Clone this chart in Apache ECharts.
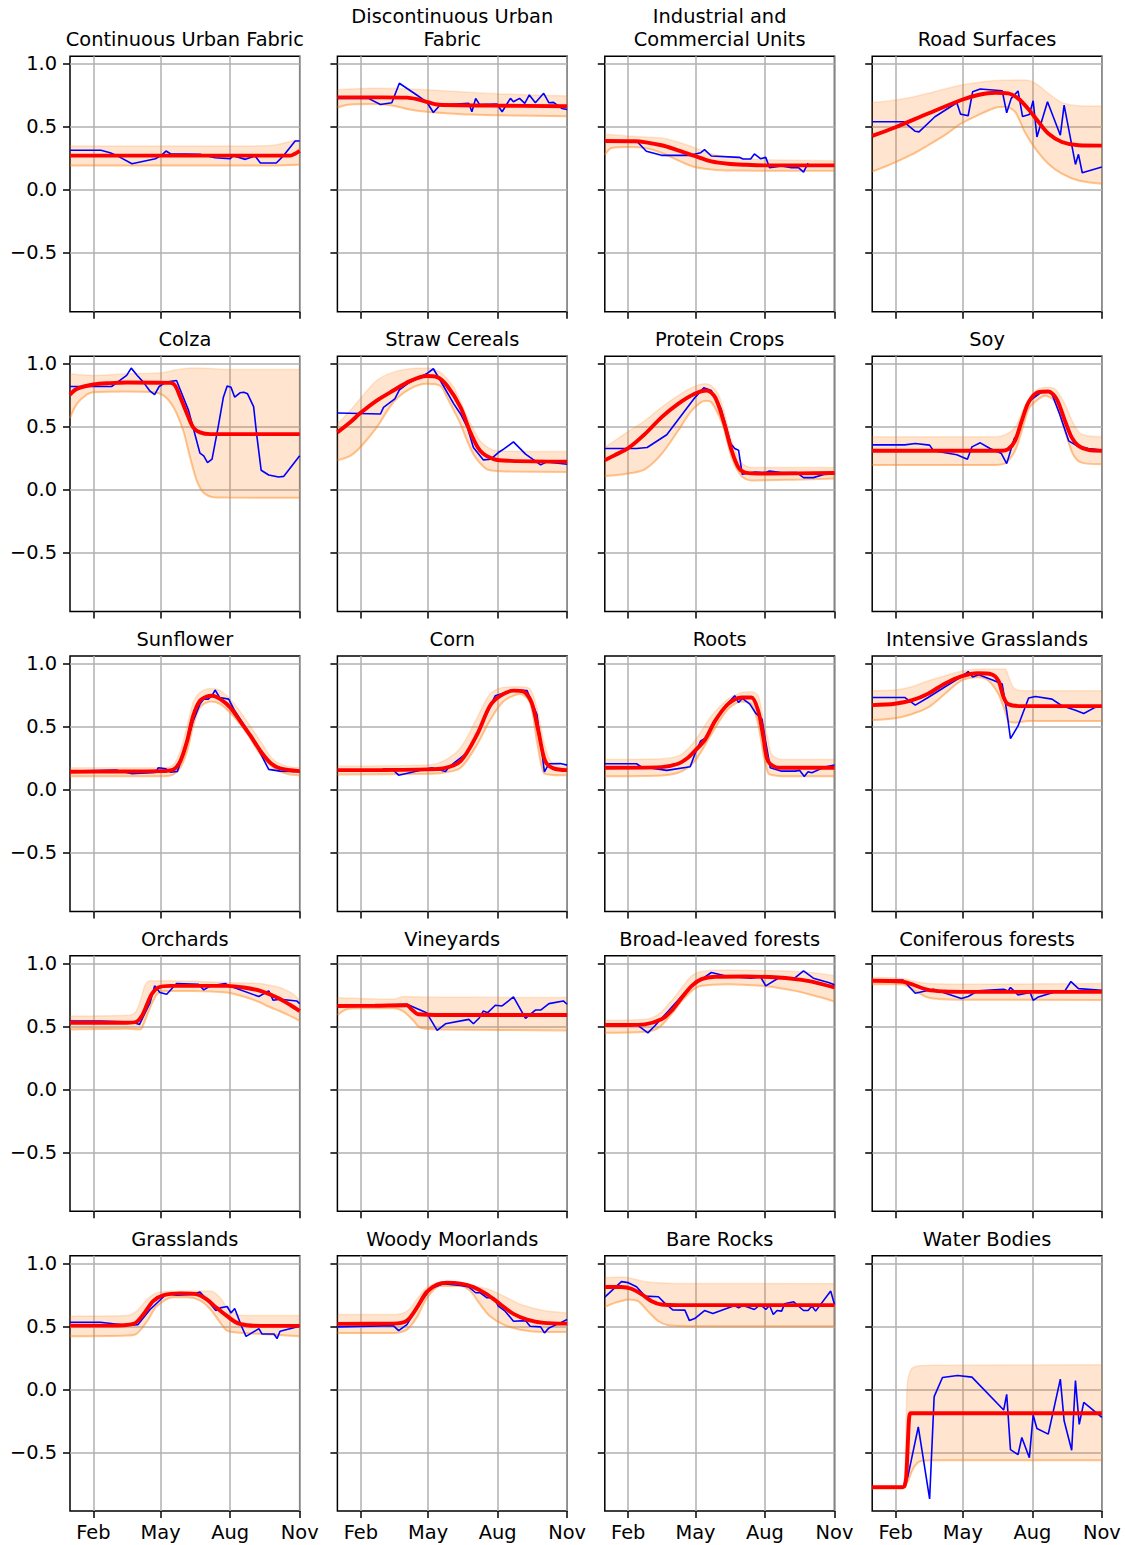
<!DOCTYPE html>
<html>
<head>
<meta charset="utf-8">
<script src="https://cdn.jsdelivr.net/npm/echarts@6/dist/echarts.min.js"></script>
<style>
  html, body { margin: 0; padding: 0; background: #fff; }
  #chart { width: 1125px; height: 1545px; }
</style>
</head>
<body>
<div id="chart"></div>
<script>
// x = day of year (0 = 1 Jan ... 304 = 1 Nov), y = index value
const lastDay = 304;
const monthTicks = [31, 120, 212, 304];
const monthNames = ['Feb', 'May', 'Aug', 'Nov'];
const yTicks = [-0.5, 0, 0.5, 1.0];

// observations [day, value], fitted curve [day, value], band [day, low, high]
const cufObs = [[0,.314],[41,.314],[53,.295],[64,.266],[82,.207],[113,.247],[121,.274],[127,.308],[133,.287],[172,.282],[192,.255],[212,.247],[216,.271],[232,.242],[245,.269],[252,.213],[273,.213],[283,.274],[298,.388],[304,.388]];
const cufFit = [[0,.272],[150,.272],[292,.272],[297,.285],[304,.31]];
const cufBand = [[0,.194,.348],[100,.194,.348],[200,.194,.348],[260,.194,.35],[275,.194,.36],[285,.196,.375],[295,.198,.39],[304,.2,.396]];

const dufObs = [[0,.726],[41,.726],[57,.678],[72,.691],[82,.846],[105,.753],[118,.699],[127,.614],[136,.673],[174,.686],[178,.62],[183,.726],[188,.678],[211,.681],[218,.62],[229,.726],[233,.699],[241,.726],[248,.686],[254,.753],[262,.691],[273,.766],[280,.691],[286,.694],[297,.646],[304,.638]];
const dufFit = [[0,.734],[60,.734],[92,.732],[105,.72],[118,.699],[129,.68],[140,.673],[200,.669],[304,.664]];
const dufBand = [[0,.654,.793],[17,.678,.80],[52,.681,.806],[74,.668,.804],[96,.638,.801],[118,.62,.795],[140,.61,.787],[163,.601,.779],[185,.597,.771],[207,.593,.764],[229,.591,.758],[304,.585,.745]];

const icuObs = [[0,.388],[42,.388],[55,.306],[75,.274],[113,.274],[127,.295],[132,.319],[141,.269],[178,.258],[183,.245],[193,.245],[198,.285],[206,.247],[213,.258],[218,.176],[234,.189],[247,.176],[256,.178],[263,.141],[269,.213]];
const icuFit = [[0,.388],[40,.386],[75,.354],[97,.314],[119,.269],[141,.226],[163,.207],[186,.199],[213,.194],[304,.194]];
const icuBand = [[0,.279,.441],[9,.332,.438],[31,.34,.428],[53,.332,.42],[75,.295,.412],[97,.234,.38],[119,.181,.335],[141,.162,.287],[163,.154,.261],[186,.153,.247],[213,.152,.239],[304,.152,.231]];

const roadObs = [[0,.54],[42,.54],[57,.465],[62,.46],[83,.58],[112,.691],[117,.601],[127,.588],[133,.779],[143,.80],[172,.787],[178,.612],[184,.726],[193,.785],[199,.582],[208,.598],[213,.707],[218,.42],[232,.699],[249,.434],[254,.673],[269,.202],[273,.282],[278,.136],[304,.181]];
const roadFit = [[0,.428],[30,.495],[74,.606],[118,.713],[140,.753],[163,.771],[180,.766],[193,.726],[206,.646],[220,.54],[233,.447],[251,.38],[273,.354],[304,.351]];
const roadBand = [[0,.146,.694],[21,.194,.705],[52,.279,.735],[74,.354,.766],[96,.434,.80],[118,.527,.832],[140,.593,.852],[163,.652,.867],[176,.66,.87],[189,.62,.872],[202,.46,.872],[216,.327,.846],[233,.207,.766],[251,.128,.694],[273,.074,.668],[304,.048,.665]];

const colzaObs = [[0,.819],[55,.819],[66,.867],[75,.907],[81,.965],[89,.907],[97,.854],[106,.782],[112,.755],[118,.819],[127,.854],[141,.867],[157,.628],[172,.29],[177,.269],[182,.215],[188,.242],[196,.495],[203,.734],[208,.824],[213,.814],[218,.734],[225,.769],[230,.774],[235,.761],[243,.66],[247,.441],[253,.154],[263,.117],[276,.101],[283,.106],[304,.269]];
const colzaFit = [[0,.755],[9,.80],[31,.835],[53,.846],[75,.851],[133,.848],[139,.827],[146,.734],[155,.601],[163,.495],[172,.455],[186,.441],[304,.441]];
const colzaBand = [[0,.569,.92],[9,.681,.915],[22,.755,.91],[31,.774,.907],[75,.779,.92],[110,.774,.925],[124,.747,.93],[137,.654,.948],[150,.468,.96],[159,.255,.965],[168,.069,.965],[177,-.024,.963],[190,-.059,.96],[208,-.062,.955],[304,-.064,.955]];

const strawObs = [[0,.609],[57,.601],[61,.654],[76,.721],[82,.793],[94,.846],[107,.886],[118,.92],[127,.96],[140,.827],[154,.681],[163,.601],[172,.495],[180,.335],[193,.237],[203,.242],[213,.295],[220,.322],[233,.38],[249,.282],[269,.197],[277,.221],[304,.202]];
const strawFit = [[0,.455],[17,.535],[30,.606],[52,.707],[74,.787],[96,.862],[118,.902],[132,.894],[145,.827],[163,.654],[176,.455],[189,.309],[207,.242],[229,.229],[304,.223]];
const strawBand = [[0,.234,.521],[17,.269,.628],[30,.335,.721],[52,.495,.867],[74,.694,.933],[96,.80,.96],[118,.84,.965],[136,.825,.933],[145,.734,.88],[154,.63,.814],[163,.521,.70],[171,.40,.588],[180,.282,.48],[189,.21,.388],[198,.162,.34],[207,.15,.314],[229,.144,.306],[304,.141,.303]];

const proteinObs = [[0,.327],[42,.327],[56,.335],[82,.436],[119,.729],[131,.809],[141,.787],[154,.641],[167,.362],[172,.327],[177,.314],[182,.122],[199,.141],[213,.136],[218,.149],[234,.136],[254,.136],[263,.096],[276,.096],[291,.122],[304,.128]];
const proteinFit = [[0,.234],[13,.274],[31,.33],[53,.441],[75,.574],[97,.681],[119,.761],[135,.787],[146,.734],[157,.548],[168,.309],[177,.176],[186,.136],[213,.128],[304,.133]];
const proteinBand = [[0,.109,.335],[13,.115,.388],[31,.128,.463],[53,.162,.548],[75,.282,.654],[97,.468,.747],[115,.628,.81],[133,.707,.84],[141,.694,.825],[150,.60,.76],[157,.50,.641],[168,.255,.388],[181,.109,.215],[194,.074,.176],[250,.08,.176],[304,.088,.176]];

const soyObs = [[0,.356],[43,.356],[57,.367],[76,.354],[81,.309],[112,.277],[126,.242],[132,.34],[143,.372],[156,.327],[171,.287],[178,.207],[188,.407],[193,.441],[207,.70],[226,.782],[237,.774],[248,.601],[260,.388],[271,.348],[286,.327],[304,.314]];
const soyFit = [[0,.309],[100,.309],[171,.309],[180,.322],[189,.388],[198,.548],[207,.694],[220,.774],[233,.779],[244,.721],[255,.548],[264,.415],[273,.348],[286,.316],[304,.309]];
const soyBand = [[0,.197,.42],[100,.197,.42],[163,.197,.42],[176,.21,.436],[189,.309,.495],[198,.468,.61],[207,.641,.72],[216,.70,.787],[229,.745,.814],[242,.70,.80],[255,.468,.681],[266,.279,.53],[277,.215,.44],[304,.202,.42]];

const sunObs = [[0,.146],[62,.154],[82,.125],[113,.136],[117,.173],[127,.165],[133,.138],[142,.144],[152,.306],[163,.545],[172,.678],[177,.718],[183,.718],[188,.745],[192,.79],[198,.731],[210,.718],[218,.625],[234,.479],[247,.346],[263,.16],[278,.146],[304,.141]];
const sunFit = [[0,.141],[60,.143],[119,.146],[137,.16],[146,.226],[155,.386],[163,.585],[172,.705],[181,.739],[188,.745],[199,.718],[212,.652],[225,.545],[239,.426],[252,.306],[265,.213],[278,.168],[304,.146]];
const sunBand = [[0,.106,.173],[124,.106,.173],[137,.12,.199],[146,.173,.306],[155,.306,.505],[163,.505,.691],[172,.652,.771],[186,.699,.803],[199,.678,.785],[216,.585,.691],[234,.452,.545],[252,.279,.386],[269,.173,.239],[287,.125,.186],[304,.114,.173]];

const cornObs = [[0,.157],[74,.154],[81,.114],[125,.173],[143,.144],[149,.186],[169,.279],[180,.372],[193,.545],[209,.745],[216,.758],[233,.79],[251,.785],[264,.598],[274,.141],[280,.205],[295,.207],[304,.194]];
const cornFit = [[0,.154],[60,.155],[118,.16],[140,.168],[163,.226],[185,.439],[202,.665],[216,.745],[233,.785],[246,.779],[257,.691],[266,.465],[275,.226],[286,.168],[304,.154]];
const cornBand = [[0,.12,.186],[118,.125,.194],[140,.133,.226],[163,.173,.332],[185,.359,.572],[202,.55,.758],[220,.70,.811],[242,.758,.816],[255,.691,.798],[264,.386,.652],[273,.133,.386],[282,.118,.226],[295,.114,.186],[304,.114,.181]];

const rootsObs = [[0,.205],[42,.205],[48,.181],[82,.152],[113,.181],[119,.279],[127,.386],[133,.407],[141,.492],[154,.625],[172,.745],[177,.691],[182,.723],[192,.678],[200,.604],[208,.559],[212,.412],[219,.173],[234,.146],[252,.146],[258,.152],[264,.104],[269,.141],[274,.133],[291,.178],[304,.194]];
const rootsFit = [[0,.173],[75,.178],[97,.205],[110,.253],[119,.306],[133,.399],[146,.545],[163,.678],[181,.731],[194,.731],[203,.625],[210,.412],[216,.226],[230,.173],[304,.173]];
const rootsBand = [[0,.106,.239],[75,.112,.245],[100,.14,.275],[119,.226,.386],[141,.439,.585],[163,.638,.718],[181,.699,.771],[194,.678,.777],[203,.521,.745],[210,.279,.55],[216,.133,.40],[221,.115,.279],[234,.106,.239],[304,.106,.239]];

const intGrassObs = [[0,.731],[43,.731],[57,.67],[74,.731],[96,.814],[118,.894],[127,.936],[133,.894],[141,.912],[160,.867],[172,.838],[178,.625],[183,.404],[193,.505],[207,.726],[216,.739],[238,.718],[251,.665],[269,.63],[280,.604],[295,.652],[304,.665]];
const intGrassFit = [[0,.67],[30,.681],[52,.707],[74,.761],[96,.84],[118,.899],[140,.923],[158,.915],[167,.864],[174,.731],[180,.678],[198,.662],[304,.662]];
const intGrassBand = [[0,.551,.785],[30,.566,.79],[52,.598,.816],[74,.652,.864],[96,.758,.904],[118,.864,.939],[140,.891,.957],[154,.864,.957],[167,.758,.957],[176,.62,.957],[180,.545,.904],[189,.532,.798],[207,.545,.785],[304,.545,.785]];

const orchObs = [[0,.543],[40,.543],[82,.535],[92,.516],[106,.689],[112,.822],[119,.769],[128,.755],[141,.84],[170,.835],[177,.79],[186,.822],[206,.84],[213,.816],[250,.737],[263,.782],[269,.707],[278,.715],[300,.702],[304,.681]];
const orchFit = [[0,.529],[75,.529],[88,.537],[95,.582],[102,.676],[108,.755],[117,.809],[133,.822],[208,.822],[230,.809],[252,.782],[274,.729],[292,.668],[304,.622]];
const orchBand = [[0,.476,.582],[75,.481,.588],[86,.478,.609],[93,.476,.702],[99,.543,.822],[106,.649,.862],[115,.755,.862],[124,.782,.862],[163,.782,.858],[208,.769,.848],[234,.729,.844],[252,.69,.84],[261,.662,.83],[278,.62,.809],[287,.596,.785],[296,.57,.755],[304,.543,.702]];

const vineObs = [[0,.662],[92,.676],[118,.609],[132,.468],[143,.521],[174,.556],[180,.521],[188,.569],[193,.622],[199,.609],[209,.668],[218,.662],[233,.734],[249,.564],[262,.63],[269,.63],[280,.681],[299,.702],[304,.676]];
const vineFit = [[0,.662],[50,.664],[92,.668],[98,.636],[107,.596],[140,.59],[304,.59]];
const vineBand = [[0,.59,.729],[12,.636,.725],[30,.644,.722],[74,.644,.715],[87,.622,.737],[101,.543,.735],[110,.489,.734],[140,.476,.732],[304,.468,.729]];

const broadObs = [[0,.516],[42,.516],[57,.449],[66,.503],[82,.609],[104,.755],[119,.835],[141,.928],[163,.896],[194,.883],[206,.894],[213,.822],[229,.88],[252,.888],[263,.941],[276,.883],[296,.848],[304,.83]];
const broadFit = [[0,.511],[31,.511],[53,.516],[75,.556],[88,.622],[102,.729],[115,.822],[128,.875],[146,.894],[186,.896],[230,.888],[252,.875],[274,.856],[304,.809]];
const broadBand = [[0,.449,.548],[53,.457,.556],[71,.489,.596],[88,.596,.702],[102,.702,.809],[115,.782,.902],[128,.822,.936],[163,.835,.947],[208,.822,.943],[230,.805,.941],[252,.782,.936],[274,.75,.928],[287,.729,.918],[304,.697,.902]];

const conifObs = [[0,.862],[41,.867],[57,.763],[81,.795],[101,.755],[118,.721],[127,.737],[140,.782],[174,.795],[180,.782],[183,.809],[193,.75],[209,.769],[213,.707],[220,.734],[246,.782],[255,.782],[263,.856],[273,.80],[304,.787]];
const conifFit = [[0,.862],[39,.856],[52,.835],[74,.79],[96,.777],[118,.774],[304,.774]];
const conifBand = [[0,.835,.888],[39,.835,.883],[57,.782,.856],[74,.729,.84],[96,.715,.837],[118,.712,.835],[304,.71,.84]];

const grassObs = [[0,.532],[40,.532],[75,.508],[90,.513],[106,.633],[128,.758],[141,.747],[163,.753],[172,.771],[181,.713],[193,.625],[199,.646],[208,.657],[213,.606],[218,.641],[227,.50],[233,.42],[250,.481],[254,.439],[270,.439],[274,.402],[278,.46],[304,.50]];
const grassFit = [[0,.505],[53,.505],[84,.519],[97,.593],[110,.699],[124,.747],[146,.761],[168,.753],[181,.713],[194,.646],[208,.58],[221,.527],[234,.508],[252,.503],[304,.503]];
const grassBand = [[0,.42,.58],[75,.426,.585],[88,.44,.62],[102,.54,.713],[115,.66,.766],[137,.731,.778],[155,.731,.779],[172,.705,.779],[186,.633,.779],[199,.527,.726],[208,.465,.646],[221,.45,.593],[234,.445,.585],[304,.42,.585]];

const moorObs = [[0,.495],[74,.505],[81,.465],[92,.513],[107,.66],[123,.798],[140,.838],[163,.824],[174,.811],[183,.766],[189,.766],[198,.726],[207,.726],[213,.66],[222,.62],[233,.54],[249,.545],[255,.50],[269,.495],[274,.447],[280,.487],[295,.527],[304,.553]];
const moorFit = [[0,.519],[74,.521],[92,.545],[105,.646],[118,.771],[132,.832],[145,.846],[163,.838],[180,.811],[198,.753],[216,.673],[233,.598],[251,.553],[273,.527],[304,.521]];
const moorBand = [[0,.447,.593],[74,.447,.593],[92,.473,.62],[105,.57,.713],[118,.72,.806],[136,.82,.846],[163,.819,.838],[176,.779,.828],[189,.673,.81],[202,.58,.79],[220,.513,.74],[242,.473,.675],[273,.455,.625],[304,.455,.606]];

const rocksObs = [[0,.731],[11,.793],[22,.854],[31,.846],[42,.814],[53,.739],[71,.734],[79,.686],[90,.63],[106,.628],[112,.545],[119,.561],[132,.625],[143,.601],[172,.665],[177,.646],[183,.665],[198,.633],[206,.673],[213,.633],[218,.665],[223,.593],[228,.625],[234,.62],[238,.678],[250,.694],[263,.625],[269,.625],[274,.66],[279,.62],[299,.779],[304,.673]];
const rocksFit = [[0,.811],[22,.811],[35,.798],[49,.753],[62,.699],[75,.673],[97,.668],[304,.668]];
const rocksBand = [[0,.654,.886],[13,.686,.889],[22,.70,.891],[31,.713,.885],[44,.699,.868],[57,.62,.851],[71,.54,.845],[84,.508,.842],[97,.503,.84],[119,.50,.839],[304,.50,.838]];

const waterObs = [[0,-.777],[42,-.777],[47,-.697],[61,-.298],[76,-.87],[82,-.059],[93,.093],[113,.109],[132,.096],[174,-.165],[178,-.04],[183,-.479],[193,-.519],[198,-.383],[208,-.543],[213,-.205],[218,-.311],[233,-.356],[249,.08],[254,-.25],[264,-.484],[269,.069],[274,-.279],[280,-.104],[304,-.223]];
const waterFit = [[0,-.777],[41,-.777],[43,-.765],[45,-.70],[47,-.45],[49,-.22],[51,-.19],[60,-.19],[304,-.19]];
const waterBand = [[0,-.79,-.77],[40,-.79,-.77],[42,-.78,-.76],[44,-.76,-.48],[46,-.74,0],[48,-.72,.10],[52,-.657,.162],[57,-.604,.18],[63,-.572,.186],[80,-.564,.19],[304,-.564,.194]];

const panels = [
  { title: 'Continuous Urban Fabric', obs: cufObs, fit: cufFit, band: cufBand },
  { title: 'Discontinuous Urban\nFabric', obs: dufObs, fit: dufFit, band: dufBand },
  { title: 'Industrial and\nCommercial Units', obs: icuObs, fit: icuFit, band: icuBand },
  { title: 'Road Surfaces', obs: roadObs, fit: roadFit, band: roadBand },
  { title: 'Colza', obs: colzaObs, fit: colzaFit, band: colzaBand },
  { title: 'Straw Cereals', obs: strawObs, fit: strawFit, band: strawBand },
  { title: 'Protein Crops', obs: proteinObs, fit: proteinFit, band: proteinBand },
  { title: 'Soy', obs: soyObs, fit: soyFit, band: soyBand },
  { title: 'Sunflower', obs: sunObs, fit: sunFit, band: sunBand },
  { title: 'Corn', obs: cornObs, fit: cornFit, band: cornBand },
  { title: 'Roots', obs: rootsObs, fit: rootsFit, band: rootsBand },
  { title: 'Intensive Grasslands', obs: intGrassObs, fit: intGrassFit, band: intGrassBand },
  { title: 'Orchards', obs: orchObs, fit: orchFit, band: orchBand },
  { title: 'Vineyards', obs: vineObs, fit: vineFit, band: vineBand },
  { title: 'Broad-leaved forests', obs: broadObs, fit: broadFit, band: broadBand },
  { title: 'Coniferous forests', obs: conifObs, fit: conifFit, band: conifBand },
  { title: 'Grasslands', obs: grassObs, fit: grassFit, band: grassBand },
  { title: 'Woody Moorlands', obs: moorObs, fit: moorFit, band: moorBand },
  { title: 'Bare Rocks', obs: rocksObs, fit: rocksFit, band: rocksBand },
  { title: 'Water Bodies', obs: waterObs, fit: waterFit, band: waterBand }
];

// one category per day, so the band series can stack by category
const dayCategories = Array.from({ length: lastDay + 1 }, (_, d) => String(d));
const isMonthTick = idx => monthTicks.indexOf(idx) >= 0;

const FONT = 'DejaVu Sans';
const fontSize = 19.4;
const plotW = 229.7, plotH = 255.4;
const SMOOTH = 0.3;

const grids = [], xAxes = [], yAxes = [], series = [], graphics = [];

panels.forEach((p, i) => {
  const row = Math.floor(i / 4), col = i % 4;
  const left = 70 + col * 267.4;
  const top = 56.3 + row * 299.85;

  grids.push({ left, top, width: plotW, height: plotH, show: true, borderColor: '#000', borderWidth: 1.5, backgroundColor: 'transparent' });

  xAxes.push({
    type: 'category', gridIndex: i, data: dayCategories, boundaryGap: false,
    axisLine: { show: false, onZero: false },
    axisTick: { show: true, length: 7, interval: isMonthTick, lineStyle: { color: '#000', width: 1.5 } },
    axisLabel: {
      show: row === 4, interval: isMonthTick, margin: 12,
      color: '#000', fontSize, fontFamily: FONT,
      formatter: v => monthNames[monthTicks.indexOf(Number(v))] || ''
    },
    splitLine: { show: true, interval: isMonthTick, lineStyle: { color: '#b0b0b0', width: 1.5 } }
  });

  yAxes.push({
    type: 'value', gridIndex: i, min: -0.967, max: 1.06,
    axisLine: { show: false, onZero: false },
    axisTick: { show: true, length: 7, lineStyle: { color: '#000', width: 1.5 }, customValues: yTicks },
    axisLabel: {
      show: col === 0, customValues: yTicks, margin: 13,
      color: '#000', fontSize, fontFamily: FONT,
      formatter: v => v.toFixed(1).replace('-', '\u2212')
    },
    splitLine: { show: true, lineStyle: { color: '#b0b0b0', width: 1.5 } }
  });

  // band: lower edge, then (high - low) stacked on it and filled
  const stackKey = 'band' + i;
  series.push({
    type: 'line', xAxisIndex: i, yAxisIndex: i, stack: stackKey, stackStrategy: 'all',
    data: p.band.map(b => [b[0], b[1]]),
    smooth: SMOOTH, symbol: 'none', silent: true,
    lineStyle: { color: 'rgba(255,127,14,0.45)', width: 2 }
  });
  series.push({
    type: 'line', xAxisIndex: i, yAxisIndex: i, stack: stackKey, stackStrategy: 'all',
    data: p.band.map(b => [b[0], b[2] - b[1]]),
    smooth: SMOOTH, symbol: 'none', silent: true,
    lineStyle: { color: 'rgba(255,127,14,0.18)', width: 1.5 },
    areaStyle: { color: '#ff7f0e', opacity: 0.2 }
  });
  // observations
  series.push({
    type: 'line', xAxisIndex: i, yAxisIndex: i,
    data: p.obs.map(o => [o[0], o[1]]),
    symbol: 'none', silent: true,
    lineStyle: { color: '#0000ff', width: 1.6 }
  });
  // fitted curve
  series.push({
    type: 'line', xAxisIndex: i, yAxisIndex: i,
    data: p.fit.map(f => [f[0], f[1]]),
    smooth: SMOOTH, symbol: 'none', silent: true,
    lineStyle: { color: '#ff0000', width: 3.9 }
  });

  graphics.push({
    type: 'text', x: left + plotW / 2, y: top - 5, silent: true,
    style: { text: p.title, align: 'center', verticalAlign: 'bottom', fontSize, fontFamily: FONT, fill: '#000', lineHeight: 23 }
  });
});

const chart = echarts.init(document.getElementById('chart'), null, { renderer: 'svg' });
chart.setOption({
  animation: false,
  backgroundColor: '#fff',
  grid: grids,
  xAxis: xAxes,
  yAxis: yAxes,
  series,
  graphic: graphics
});
</script>
</body>
</html>
